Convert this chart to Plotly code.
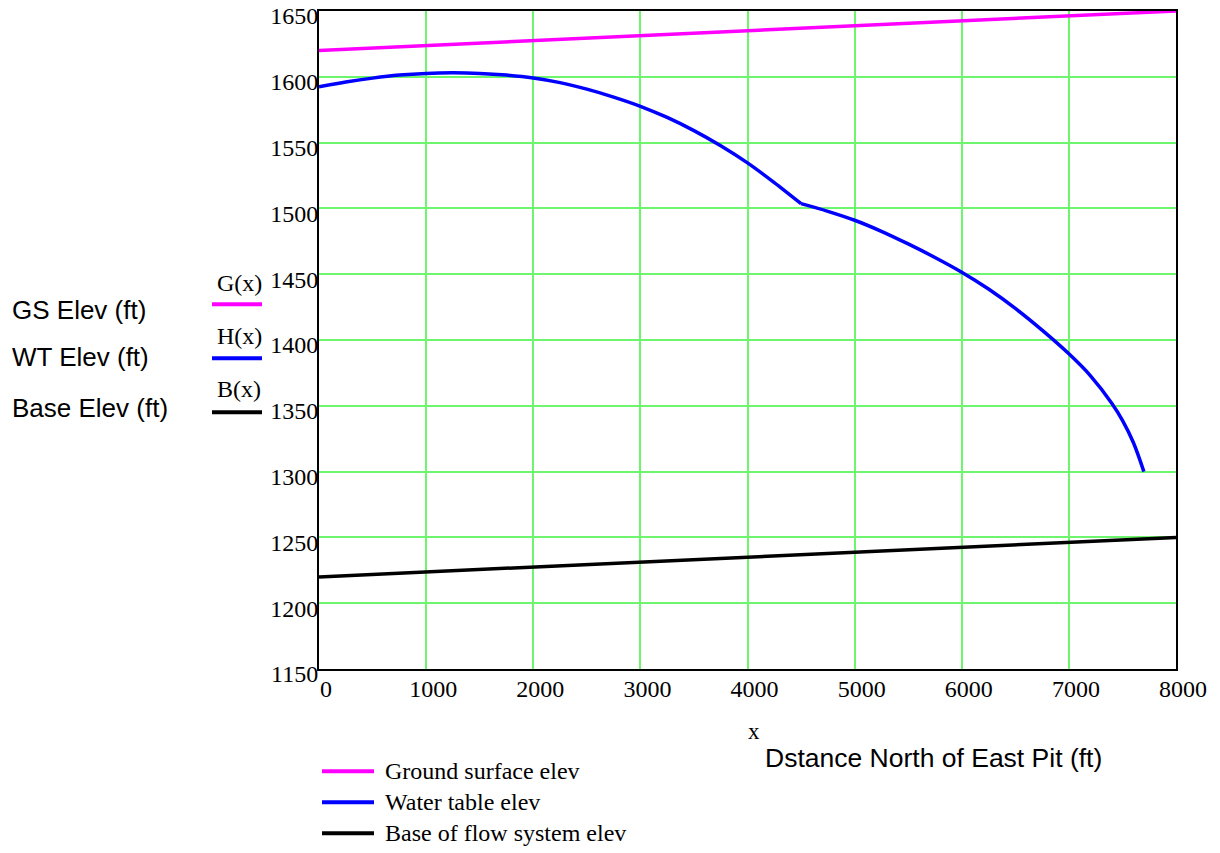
import plotly.graph_objects as go

# ---- data ----
gs_x = [0, 8000]
gs_y = [1620, 1650]
base_x = [0, 8000]
base_y = [1220, 1250]
wt_x = [0, 250, 500, 750, 1000, 1250, 1500, 1750, 2000, 2250, 2500, 2750, 3000, 3250, 3500,
        3750, 4000, 4250, 4500,
        4750, 5000, 5250, 5500, 5750, 6000, 6250, 6500, 6750, 7000, 7200, 7400, 7500, 7600,
        7700]
wt_y = [1592.4, 1596, 1599, 1601.3, 1602.6, 1603, 1602.6, 1601.3, 1599.1, 1595.6, 1590.6,
        1584.6, 1577.6, 1569.1, 1559.1, 1547.6, 1534.6, 1519.6, 1503.6,
        1497.8, 1491, 1482.6, 1473, 1462.7, 1451.5, 1438.7, 1424, 1407.5, 1389.5, 1373, 1352,
        1339, 1322.5, 1300]
kink_x = 4500
x_ticks = [0, 1000, 2000, 3000, 4000, 5000, 6000, 7000, 8000]
y_ticks = [1150, 1200, 1250, 1300, 1350, 1400, 1450, 1500, 1550, 1600, 1650]

# ---- layout geometry (pixels) ----
W, H = 1220, 853
L, R, T, B = 319, 1176, 10.7, 668.7
PW, PH = R - L, B - T


def px(xp):
    return (xp - L) / PW


def py(yp):
    return (B - yp) / PH


MAG, BLU, BLK = "#ff00ff", "#0000ff", "#000000"
GREEN = "rgb(110,245,110)"
SERIF = "Liberation Serif"
SANS = "Liberation Sans"

k = wt_x.index(kink_x)
fig = go.Figure()
fig.add_trace(go.Scatter(x=gs_x, y=gs_y, mode="lines", line=dict(color=MAG, width=3.5)))
fig.add_trace(go.Scatter(x=wt_x[:k + 1], y=wt_y[:k + 1], mode="lines",
                         line=dict(color=BLU, width=3.5, shape="spline", smoothing=0.7)))
fig.add_trace(go.Scatter(x=wt_x[k:], y=wt_y[k:], mode="lines",
                         line=dict(color=BLU, width=3.5, shape="spline", smoothing=1.0)))
fig.add_trace(go.Scatter(x=base_x, y=base_y, mode="lines", line=dict(color=BLK, width=3.5)))

ax_common = dict(showgrid=True, gridcolor=GREEN, gridwidth=1.5, zeroline=False,
                 showline=True, linecolor="black", linewidth=2, mirror=True, automargin=False,
                 ticks="", ticklen=0, ticklabeloverflow="allow",
                 tickfont=dict(family=SERIF, size=24, color="black"))
fig.update_xaxes(range=[0, 8000], tickvals=x_ticks, ticktext=[str(v) for v in x_ticks],
                 ticklabelstandoff=-3, ticklabelshift=7, **ax_common)
fig.update_yaxes(range=[1150, 1650], tickvals=y_ticks, ticktext=[str(v) for v in y_ticks],
                 ticklabelstandoff=-6, ticklabelshift=5, **ax_common)

annotations = []
shapes = []

# left legend (axis labels)
left_items = [("GS Elev (ft)", "G(x)", MAG, 310, 283, 304),
              ("WT Elev (ft)", "H(x)", BLU, 357, 336, 358),
              ("Base Elev (ft)", "B(x)", BLK, 408, 389, 412)]
for lab, fn, col, ylab, yfn, yline in left_items:
    annotations.append(dict(text=lab, x=px(10), y=py(ylab), xref="paper", yref="paper",
                            xanchor="left", yanchor="middle", showarrow=False,
                            font=dict(family=SANS, size=26, color="black")))
    annotations.append(dict(text=fn, x=px(239), y=py(yfn), xref="paper", yref="paper",
                            xanchor="center", yanchor="middle", showarrow=False,
                            font=dict(family=SERIF, size=24, color="black")))
    shapes.append(dict(type="line", xref="paper", yref="paper", x0=px(212), x1=px(262),
                       y0=py(yline), y1=py(yline), line=dict(color=col, width=4)))

# x label
annotations.append(dict(text="x", x=px(754), y=py(731), xref="paper", yref="paper",
                        xanchor="center", yanchor="middle", showarrow=False,
                        font=dict(family=SERIF, size=23, color="black")))
annotations.append(dict(text="Dstance North of East Pit (ft)", x=px(933), y=py(758),
                        xref="paper", yref="paper", xanchor="center", yanchor="middle",
                        showarrow=False, font=dict(family=SANS, size=26.5, color="black")))

# bottom legend
bottom_items = [("Ground surface elev", MAG, 771),
                ("Water table elev", BLU, 802),
                ("Base of flow system elev", BLK, 833)]
for lab, col, yy in bottom_items:
    shapes.append(dict(type="line", xref="paper", yref="paper", x0=px(322), x1=px(374),
                       y0=py(yy), y1=py(yy), line=dict(color=col, width=4)))
    annotations.append(dict(text=lab, x=px(383), y=py(yy), xref="paper", yref="paper",
                            xanchor="left", yanchor="middle", showarrow=False,
                            font=dict(family=SERIF, size=24, color="black")))

fig.update_layout(width=W, height=H, showlegend=False,
                  margin=dict(l=L, r=W - R, t=T, b=H - B, pad=0, autoexpand=False),
                  plot_bgcolor="white", paper_bgcolor="white",
                  annotations=annotations, shapes=shapes)

fig.write_html("out.html", config={"displayModeBar": False},
               post_script="document.body.style.margin='0';")
